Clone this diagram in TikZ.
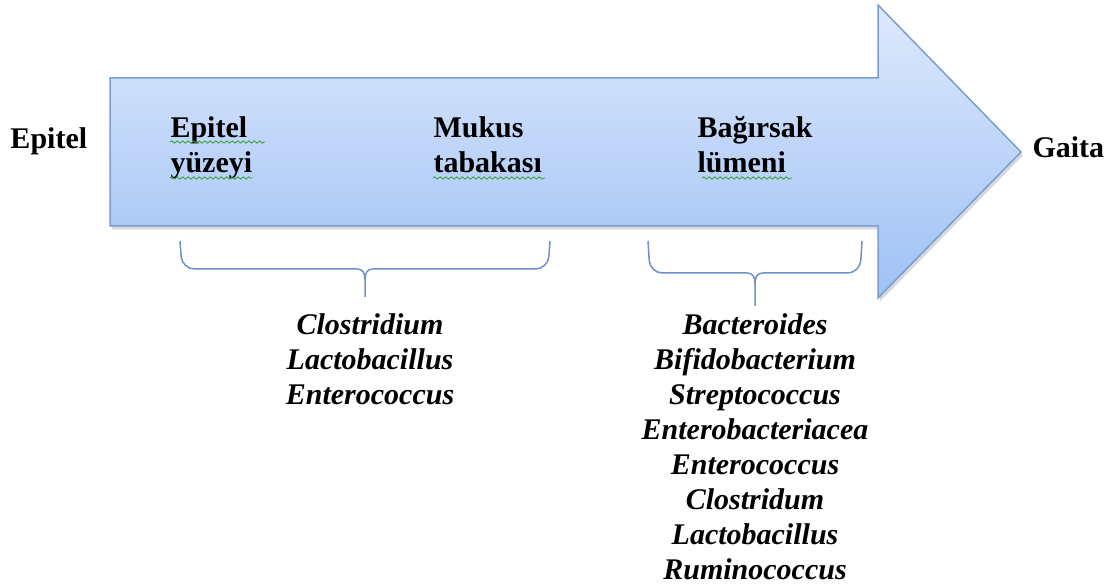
\documentclass[tikz,border=0pt]{standalone}
\usepackage{fontspec}
\setmainfont{Liberation Serif}
\usepackage{xcolor}
\usetikzlibrary{calc}
\usetikzlibrary{arrows.meta, positioning, shadows, decorations.pathmorphing}

\definecolor{okUst}{RGB}{222,233,252}
\definecolor{okAlt}{RGB}{158,193,245}
\definecolor{okCizgi}{RGB}{122,157,212}
\definecolor{parantez}{RGB}{110,145,200}
\definecolor{yazim}{RGB}{60,160,60}

\begin{document}
\begin{tikzpicture}[x=0.4pt, y=-0.4pt, every node/.style={font=\fontsize{12}{14}\selectfont\bfseries, inner sep=0pt},
  baslik/.style={align=left, anchor=north west},
  cins/.style={align=center, anchor=north, font=\fontsize{12}{14}\selectfont\bfseries\itshape},
  parantezcizgi/.style={draw=parantez, line width=0.6pt, rounded corners=5pt},
  dalga/.style={draw=yazim, line width=0.35pt, decorate, decoration={snake, segment length=2.2pt, amplitude=0.45pt}}]

\useasboundingbox (0,0) rectangle (1110,584);

% buyuk ok
\draw[line width=0.6pt, draw=okCizgi, top color=okUst, bottom color=okAlt,
      drop shadow={shadow xshift=0.8pt, shadow yshift=-1.4pt, opacity=0.3}]
  (110,78) -- (878,78) -- (878,5) -- (1021,152) -- (878,298) -- (878,226) -- (110,226) -- cycle;

\node[anchor=base west] (epitel) at (10,149) {Epitel};
\node[anchor=base west] (gaita) at (1032,158) {Gaita};

\node[baslik] (yuzey) at (170,116) {Epitel\\yüzeyi};
\node[baslik] (mukus) at (433,116) {Mukus\\tabakası};
\node[baslik] (lumen) at (697,116) {Bağırsak\\lümeni};

% yazim denetimi cizgileri
\draw[dalga] (170,142) -- (265,142);
\draw[dalga] (170,178) -- (253,178);
\draw[dalga] (433,178) -- (545,178);
\draw[dalga] (702,178) -- (792,178);

% parantezler
\draw[parantezcizgi] (180,241) -- (182,269) -- (357,269);
\draw[parantez, line width=0.6pt] (357,269) .. controls (363,269) and (365,273) .. (365,280) -- (365,297);
\draw[parantezcizgi] (550,241) -- (548,269) -- (373,269);
\draw[parantez, line width=0.6pt] (373,269) .. controls (367,269) and (365,273) .. (365,280);

\draw[parantezcizgi] (648,241) -- (650,273) -- (747,273);
\draw[parantez, line width=0.6pt] (747,273) .. controls (753,273) and (755,277) .. (755,284) -- (755,306);
\draw[parantezcizgi] (862,241) -- (860,273) -- (763,273);
\draw[parantez, line width=0.6pt] (763,273) .. controls (757,273) and (755,277) .. (755,284);

\node[cins] (floraMukoza) at (370,313) {Clostridium\\Lactobacillus\\Enterococcus};
\node[cins] (floraLumen) at (755,313) {Bacteroides\\Bifidobacterium\\Streptococcus\\Enterobacteriacea\\Enterococcus\\Clostridum\\Lactobacillus\\Ruminococcus};

\end{tikzpicture}
\end{document}
